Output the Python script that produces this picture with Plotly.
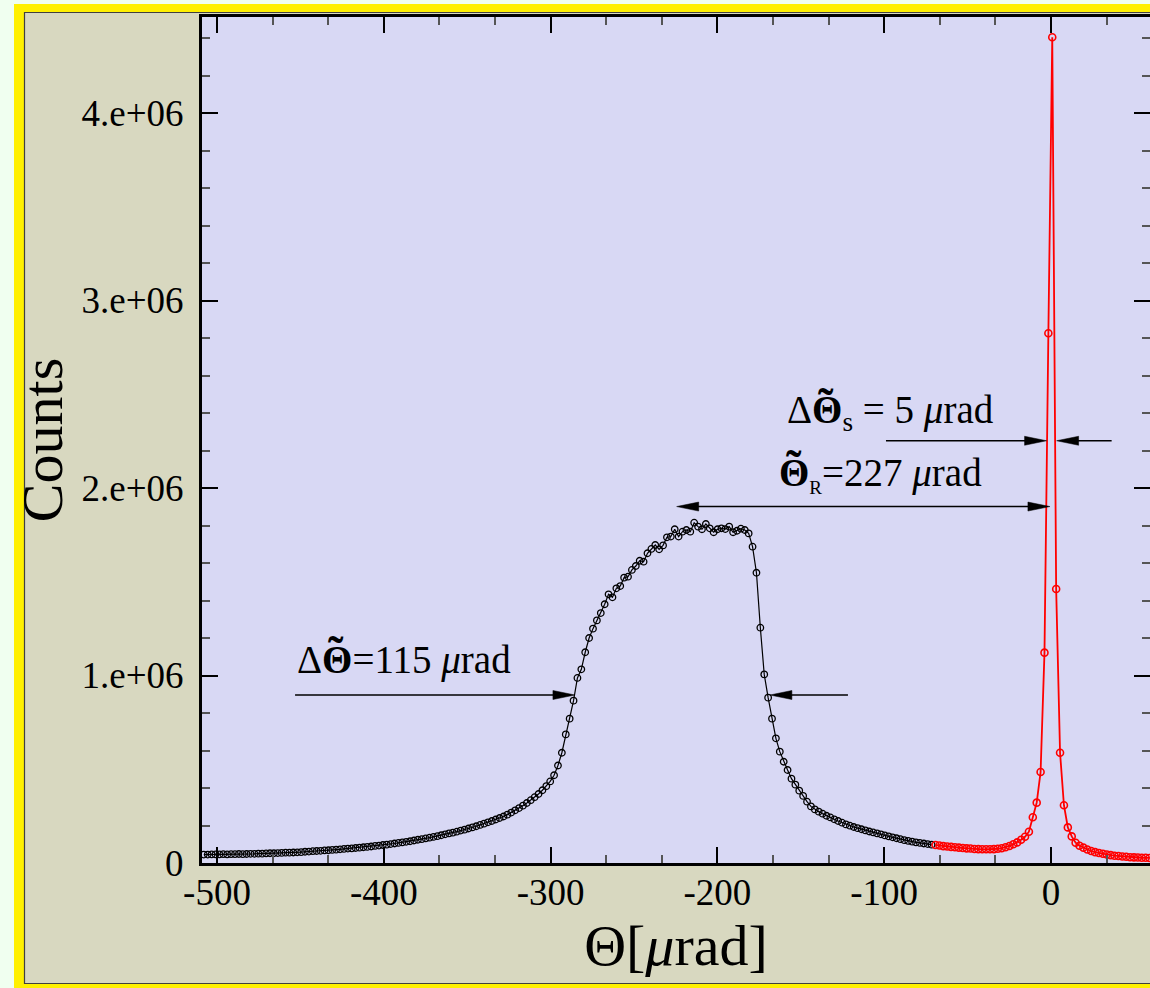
import plotly.graph_objects as go

# ---------------- data ----------------
THETA_STEP = 7.0 / 3.0          # sampling step of both scans, in μrad
BLACK_THETA_START = -507.9      # first angle of the black (reflected) scan
RED_THETA_START = -69.2         # first angle of the red (straight-through) scan

BLACK_COUNTS_M = [
    0.045, 0.045, 0.046, 0.046, 0.046, 0.047, 0.046, 0.047, 0.047, 0.048,
    0.047, 0.048, 0.049, 0.049, 0.050, 0.050, 0.051, 0.052, 0.052, 0.053,
    0.054, 0.055, 0.055, 0.056, 0.057, 0.058, 0.060, 0.061, 0.063, 0.064,
    0.065, 0.067, 0.068, 0.070, 0.071, 0.073, 0.075, 0.077, 0.078, 0.080,
    0.082, 0.084, 0.086, 0.088, 0.091, 0.093, 0.096, 0.098, 0.101, 0.104,
    0.107, 0.110, 0.113, 0.116, 0.120, 0.124, 0.127, 0.131, 0.135, 0.139,
    0.143, 0.148, 0.153, 0.158, 0.162, 0.167, 0.173, 0.178, 0.184, 0.190,
    0.196, 0.203, 0.210, 0.217, 0.224, 0.232, 0.240, 0.248, 0.258, 0.269,
    0.281, 0.293, 0.306, 0.320, 0.335, 0.351, 0.368, 0.388, 0.410, 0.435,
    0.468, 0.520, 0.588, 0.686, 0.770, 0.866, 0.987, 1.033, 1.124, 1.200,
    1.250, 1.294, 1.333, 1.380, 1.433, 1.417, 1.465, 1.477, 1.522, 1.527,
    1.563, 1.584, 1.612, 1.607, 1.652, 1.675, 1.696, 1.673, 1.694, 1.737,
    1.741, 1.780, 1.741, 1.767, 1.776, 1.767, 1.815, 1.794, 1.780, 1.808,
    1.785, 1.764, 1.780, 1.785, 1.781, 1.794, 1.764, 1.772, 1.783, 1.776,
    1.758, 1.687, 1.548, 1.255, 1.006, 0.882, 0.770, 0.665, 0.594, 0.540,
    0.496, 0.450, 0.418, 0.386, 0.358, 0.327, 0.302, 0.286, 0.274, 0.263,
    0.252, 0.243, 0.233, 0.224, 0.215, 0.206, 0.199, 0.192, 0.186, 0.180,
    0.174, 0.168, 0.163, 0.158, 0.153, 0.147, 0.142, 0.137, 0.132, 0.127,
    0.122, 0.118, 0.114, 0.110, 0.107, 0.104, 0.101, 0.098,
]

RED_COUNTS_M = [
    0.096, 0.093, 0.090, 0.088, 0.086, 0.084, 0.082, 0.080, 0.078, 0.077,
    0.075, 0.074, 0.073, 0.073, 0.073, 0.074, 0.076, 0.079, 0.084, 0.091,
    0.100, 0.110, 0.124, 0.140, 0.167, 0.244, 0.322, 0.485, 1.122, 2.825,
    4.404, 1.461, 0.588, 0.308, 0.190, 0.142, 0.108, 0.092, 0.082, 0.072,
    0.064, 0.058, 0.053, 0.049, 0.045, 0.042, 0.039, 0.037, 0.035, 0.033,
    0.031, 0.030, 0.029, 0.028, 0.028, 0.027,
]
COUNT_UNIT = 1e6

X_TICK_VALS = [-500, -400, -300, -200, -100, 0]
X_TICK_TEXT = ["-500", "-400", "-300", "-200", "-100", "0"]
Y_TICK_VALS = [0, 1e6, 2e6, 3e6, 4e6]
Y_TICK_TEXT = ["0", "1.e+06", "2.e+06", "3.e+06", "4.e+06"]

# annotation values (μrad, counts)
FWHM_REFL = dict(x_tail_l=-453.2, x_tip_l=-285.4, x_tail_r=-121.7, x_tip_r=-168.5, y=0.896e6)
FWHM_STRAIGHT = dict(x_tail_l=-98.9, x_tip_l=-2.6, x_tail_r=36.4, x_tip_r=3.4, y=2.252e6)
DEFLECTION = dict(x_l=-224.4, x_r=-0.6, y=1.901e6)

# ---------------- layout geometry ----------------
W, H = 1150, 988
PL, PT, PR, PB = 202, 17, 1150, 863
X_RANGE = [-509.0, 59.4]
Y_RANGE = [0, 4.512e6]
SX = (PR - PL) / (X_RANGE[1] - X_RANGE[0])   # px per μrad
SY = (PB - PT) / (Y_RANGE[1] - Y_RANGE[0])   # px per count

FONT = "Liberation Serif, Times New Roman, serif"
MINT, YELLOW, BEIGE, LAVENDER = "#f0fff0", "#fff000", "#d8d8c0", "#d8d8f4"


def px_x(px):
    return (px - PL) / (PR - PL)


def px_y(py):
    return (PB - py) / (PB - PT)


black_theta = [BLACK_THETA_START + i * THETA_STEP for i in range(len(BLACK_COUNTS_M))]
red_theta = [RED_THETA_START + i * THETA_STEP for i in range(len(RED_COUNTS_M))]
black_counts = [v * COUNT_UNIT for v in BLACK_COUNTS_M]
red_counts = [v * COUNT_UNIT for v in RED_COUNTS_M]

fig = go.Figure()
fig.add_trace(go.Scatter(
    x=black_theta, y=black_counts, mode="lines+markers",
    line=dict(color="black", width=1.2),
    marker=dict(symbol="circle-open", size=6.5, color="black", line=dict(width=1.3)),
    showlegend=False, hoverinfo="skip"))
fig.add_trace(go.Scatter(
    x=red_theta, y=red_counts, mode="lines+markers",
    line=dict(color="#ff0000", width=1.8),
    marker=dict(symbol="circle-open", size=7, color="#ff0000", line=dict(width=1.6)),
    showlegend=False, hoverinfo="skip"))

shapes = [
    # yellow outer frame, beige panel and lavender plotting area
    dict(type="rect", xref="paper", yref="paper", layer="below",
         x0=px_x(14), x1=px_x(1170), y0=px_y(1000), y1=px_y(4),
         fillcolor=YELLOW, line=dict(width=0)),
    dict(type="rect", xref="paper", yref="paper", layer="below",
         x0=px_x(24.5), x1=px_x(1170), y0=px_y(983.5), y1=px_y(12.5),
         fillcolor=BEIGE, line=dict(color="#404040", width=1.2)),
    dict(type="rect", xref="paper", yref="paper", layer="below",
         x0=0, x1=1, y0=0, y1=1, fillcolor=LAVENDER, line=dict(width=0)),
]

HEAD_LEN, HEAD_HALF = 22, 4.5   # px


def arrow(x_tail, x_tip, y, head_at_tail=False):
    d = 1 if x_tip > x_tail else -1
    out = []
    xa = x_tail + (d * HEAD_LEN * 0.5 / SX if head_at_tail else 0)
    xb = x_tip - d * HEAD_LEN * 0.5 / SX
    out.append(dict(type="line", xref="x", yref="y", x0=xa, x1=xb, y0=y, y1=y,
                    line=dict(color="black", width=1.5)))
    ends = [(x_tip, d)]
    if head_at_tail:
        ends.append((x_tail, -d))
    for xt, dd in ends:
        xbase = xt - dd * HEAD_LEN / SX
        dy = HEAD_HALF / SY
        out.append(dict(type="path", xref="x", yref="y",
                        path=f"M {xt},{y} L {xbase},{y + dy} L {xbase},{y - dy} Z",
                        fillcolor="black", line=dict(color="black", width=0.5)))
    return out


shapes += arrow(FWHM_REFL["x_tail_l"], FWHM_REFL["x_tip_l"], FWHM_REFL["y"])
shapes += arrow(FWHM_REFL["x_tail_r"], FWHM_REFL["x_tip_r"], FWHM_REFL["y"])
shapes += arrow(FWHM_STRAIGHT["x_tail_l"], FWHM_STRAIGHT["x_tip_l"], FWHM_STRAIGHT["y"])
shapes += arrow(FWHM_STRAIGHT["x_tail_r"], FWHM_STRAIGHT["x_tip_r"], FWHM_STRAIGHT["y"])
shapes += arrow(DEFLECTION["x_l"], DEFLECTION["x_r"], DEFLECTION["y"], head_at_tail=True)

ANN_SIZE = 39
TILDE_SIZE = 46
BOLD_THETA = "<b>\u0398</b>"
ann_font = dict(family=FONT, size=ANN_SIZE, color="black")
tilde_font = dict(family=FONT, size=TILDE_SIZE, color="black")

# (x, py-centre, text, px offset of the Θ centre from the text's left edge)
LABELS = [
    (-453.2, 660, "\u0394" + BOLD_THETA + "=115 <i>\u03bc</i>rad", 41),
    (-159.5, 412, "\u0394" + BOLD_THETA + "<sub>s</sub> = 5 <i>\u03bc</i>rad", 41),
    (-164.3, 474, BOLD_THETA + "<sub><span style='font-size:19px'>R</span></sub>=227 <i>\u03bc</i>rad", 17),
]
annotations = []
for x, pyc, txt, theta_off in LABELS:
    yv = (PB - pyc) / SY
    annotations.append(dict(x=x, y=yv, xref="x", yref="y", xanchor="left", yanchor="middle",
                            text=txt, showarrow=False, font=ann_font))
    # the tilde accent over the bold Θ
    annotations.append(dict(x=x, y=yv, xref="x", yref="y", xanchor="center", yanchor="middle",
                            xshift=theta_off, yshift=7, text="<b>\u02dc</b>",
                            showarrow=False, font=tilde_font))

axis_common = dict(
    showline=True, linewidth=3, linecolor="black", mirror="allticks",
    ticks="inside", ticklen=16, tickwidth=2, tickcolor="black",
    showgrid=False, zeroline=False, automargin=False,
    tickfont=dict(family=FONT, size=37, color="black"),
)

fig.update_layout(
    width=W, height=H,
    margin=dict(l=PL, r=W - PR, t=PT, b=H - PB, pad=0),
    paper_bgcolor=MINT, plot_bgcolor="rgba(0,0,0,0)",
    template="none", showlegend=False, hovermode=False,
    shapes=shapes, annotations=annotations,
    xaxis=dict(
        range=X_RANGE, tickmode="array", tickvals=X_TICK_VALS, ticktext=X_TICK_TEXT,
        ticklabelstandoff=-5,
        minor=dict(ticks="inside", ticklen=8, tickwidth=1.5, tickcolor="#555555",
                   tick0=-500, dtick=100 / 3, showgrid=False),
        title=dict(text="\u0398[<i>\u03bc</i>rad]", font=dict(family=FONT, size=58, color="black"),
                   standoff=6),
        **axis_common),
    yaxis=dict(
        range=Y_RANGE, tickmode="array", tickvals=Y_TICK_VALS, ticktext=Y_TICK_TEXT,
        ticklabelstandoff=8,
        minor=dict(ticks="inside", ticklen=8, tickwidth=1.5, tickcolor="#555555",
                   tick0=0, dtick=2e5, showgrid=False),
        title=dict(text="Counts", font=dict(family=FONT, size=58, color="black"), standoff=1),
        **axis_common),
)

fig.write_html("out.html", config={"displayModeBar": False},
               post_script="document.body.style.margin='0';document.body.style.background='#f0fff0';")
